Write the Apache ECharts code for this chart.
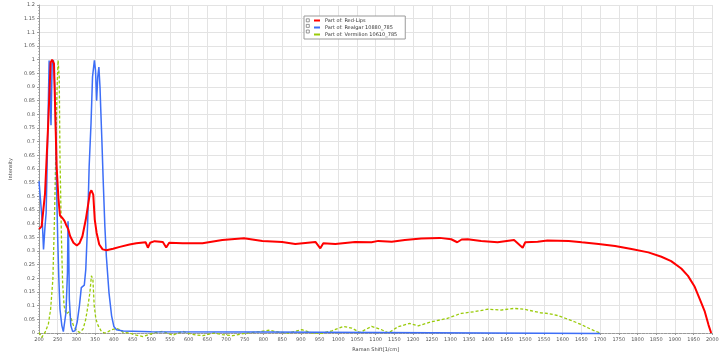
<!DOCTYPE html>
<html>
<head>
<meta charset="utf-8">
<script src="https://cdn.jsdelivr.net/npm/echarts@6/dist/echarts.min.js"></script>
<style>
  html, body { margin: 0; padding: 0; background: #fff; }
  #chart { width: 728px; height: 364px; }
</style>
</head>
<body>
<div id="chart"></div>
<script>
// Raman spectra, x = shift (1/cm), y = normalised intensity
var seriesNames = ["Part of: Red-Lips", "Part of: Realgar 10880_785", "Part of: Vermilion 10610_785"];

var redShift = [200, 207, 216, 225, 231, 235, 240, 243, 247, 252, 256, 263, 268, 272, 278, 283, 292, 301, 308, 316, 325, 332, 336, 340, 345, 349, 354, 361, 370, 380, 398, 416, 442, 460, 485, 491, 497, 509, 531, 540, 548, 584, 637, 690, 748, 797, 850, 885, 939, 952, 960, 992, 1045, 1089, 1107, 1143, 1178, 1222, 1271, 1302, 1318, 1330, 1346, 1382, 1426, 1470, 1493, 1500, 1533, 1559, 1616, 1651, 1696, 1740, 1784, 1829, 1864, 1890, 1917, 1935, 1953, 1966, 1980, 1990, 1997];
var redInt = [0.38, 0.39, 0.51, 0.78, 0.99, 1.0, 0.985, 0.83, 0.61, 0.49, 0.43, 0.42, 0.41, 0.397, 0.38, 0.355, 0.33, 0.32, 0.328, 0.354, 0.415, 0.476, 0.512, 0.522, 0.506, 0.415, 0.366, 0.324, 0.306, 0.303, 0.308, 0.315, 0.324, 0.328, 0.332, 0.312, 0.33, 0.336, 0.333, 0.313, 0.33, 0.328, 0.328, 0.34, 0.347, 0.337, 0.333, 0.326, 0.333, 0.31, 0.328, 0.326, 0.333, 0.332, 0.337, 0.334, 0.34, 0.346, 0.348, 0.343, 0.332, 0.342, 0.343, 0.337, 0.332, 0.34, 0.312, 0.332, 0.334, 0.338, 0.337, 0.332, 0.326, 0.318, 0.307, 0.295, 0.279, 0.263, 0.236, 0.209, 0.169, 0.126, 0.078, 0.029, 0.0];

var realgarShift = [200, 205, 209, 212, 216, 219, 223, 227, 229, 232, 235, 238.5, 242, 245, 247, 250, 253, 256, 261, 265, 269, 272, 276, 277.5, 279, 281, 285, 290, 296, 302, 308, 313, 316.5, 321, 325, 330, 334, 339, 343, 348, 351, 354, 357, 360, 363, 365, 368, 371.5, 376, 380, 387, 394, 400, 407, 425, 500, 800, 1100, 1400, 1700];
var realgarInt = [0.555, 0.55, 0.4, 0.306, 0.39, 0.44, 0.706, 0.997, 0.995, 0.76, 0.985, 0.998, 0.9, 0.72, 0.524, 0.342, 0.197, 0.087, 0.027, 0.005, 0.008, 0.075, 0.22, 0.409, 0.342, 0.124, 0.027, 0.005, 0.008, 0.04, 0.1, 0.166, 0.172, 0.175, 0.233, 0.403, 0.609, 0.767, 0.937, 0.998, 0.961, 0.85, 0.937, 0.973, 0.9, 0.82, 0.706, 0.56, 0.39, 0.28, 0.148, 0.063, 0.024, 0.012, 0.007, 0.005, 0.004, 0.002, 0.0, -0.002];

var vermShift = [200, 207, 216, 225, 231, 237, 241, 245, 248, 251, 254, 256, 260, 263, 267, 272, 277, 281, 285, 292, 301, 309, 318, 325, 332, 336, 340, 344, 347.5, 352, 358, 367, 376, 385, 394, 407, 416, 425, 442, 460, 478, 495, 513, 531, 557, 584, 610, 637, 668, 690, 717, 752, 788, 815, 841, 868, 903, 930, 956, 983, 1014, 1036, 1058, 1089, 1116, 1134, 1160, 1191, 1214, 1249, 1293, 1329, 1364, 1400, 1435, 1470, 1497, 1541, 1563, 1586, 1607, 1630, 1651, 1678, 1700];
var vermInt = [0.002, -0.016, 0.002, 0.033, 0.087, 0.197, 0.403, 0.67, 0.888, 0.998, 0.937, 0.646, 0.342, 0.184, 0.1, 0.069, 0.066, 0.078, 0.057, 0.027, 0.008, 0.002, 0.015, 0.051, 0.11, 0.148, 0.209, 0.197, 0.1, 0.051, 0.027, 0.005, 0.0, 0.005, 0.012, 0.017, 0.012, 0.002, 0.0, -0.008, -0.013, -0.005, 0.002, 0.006, -0.008, 0.006, -0.005, -0.01, 0.0, -0.006, -0.01, -0.001, 0.005, 0.01, 0.003, 0.0, 0.012, 0.0, -0.001, 0.008, 0.024, 0.018, 0.002, 0.024, 0.012, 0.0, 0.023, 0.035, 0.026, 0.041, 0.054, 0.072, 0.078, 0.087, 0.084, 0.09, 0.087, 0.074, 0.071, 0.064, 0.054, 0.042, 0.03, 0.012, 0.0];

function pairs(xs, ys) {
  return xs.map(function (x, i) { return [x, ys[i]]; });
}

var chart = echarts.init(document.getElementById("chart"));
var tickFont = { fontSize: 5, color: "#555", fontFamily: "DejaVu Sans" };

chart.setOption({
  animation: false,
  grid: { left: 35.5, right: 15.7, top: 5, bottom: 31 },
  legend: {
    left: 304,
    top: 16,
    orient: "vertical",
    itemWidth: 6,
    itemHeight: 2,
    itemGap: 2,
    padding: [2, 8, 2, 10],
    backgroundColor: "#fff",
    borderColor: "#9a9a9a",
    borderWidth: 1,
    textStyle: { fontSize: 5, color: "#333", fontFamily: "DejaVu Sans" },
    data: seriesNames.map(function (n) { return { name: n, icon: "rect" }; })
  },
  graphic: [0, 1, 2].map(function (i) {
    return {
      type: "rect",
      left: 306,
      top: 18.5 + i * 5.6,
      z: 100,
      shape: { width: 3, height: 3 },
      style: { fill: "#fff", stroke: "#555", lineWidth: 0.6 }
    };
  }),
  xAxis: {
    type: "value",
    min: 200,
    max: 2000,
    interval: 50,
    name: "Raman Shift[1/cm]",
    nameLocation: "middle",
    nameGap: 12,
    nameTextStyle: { fontSize: 5, color: "#444", fontFamily: "DejaVu Sans" },
    axisLine: { lineStyle: { color: "#999" } },
    axisTick: { show: true, length: 2, lineStyle: { color: "#999" } },
    minorTick: { show: true, splitNumber: 5, length: 1, lineStyle: { color: "#bbb" } },
    axisLabel: Object.assign({ margin: 4, formatter: function (v) { return String(v); } }, tickFont),
    splitLine: { show: true, lineStyle: { color: "#e3e3e3", width: 1 } }
  },
  yAxis: {
    type: "value",
    min: 0,
    max: 1.2,
    interval: 0.05,
    name: "Intensity",
    nameLocation: "middle",
    nameGap: 19,
    nameTextStyle: { fontSize: 5, color: "#444", fontFamily: "DejaVu Sans" },
    axisLine: { show: true, lineStyle: { color: "#999" } },
    axisTick: { show: true, length: 2, lineStyle: { color: "#999" } },
    minorTick: { show: true, splitNumber: 5, length: 1, lineStyle: { color: "#bbb" } },
    axisLabel: Object.assign({ margin: 4 }, tickFont),
    splitLine: { show: true, lineStyle: { color: "#e3e3e3", width: 1 } }
  },
  series: [
    {
      name: seriesNames[0],
      type: "line",
      showSymbol: false,
      clip: false,
      z: 3,
      color: "#ff0000",
      lineStyle: { width: 2, color: "#ff0000" },
      data: pairs(redShift, redInt)
    },
    {
      name: seriesNames[1],
      type: "line",
      showSymbol: false,
      clip: false,
      z: 2,
      color: "#3d6ef7",
      lineStyle: { width: 1.5, color: "#3d6ef7" },
      data: pairs(realgarShift, realgarInt)
    },
    {
      name: seriesNames[2],
      type: "line",
      showSymbol: false,
      clip: false,
      z: 1,
      color: "#9acb0a",
      lineStyle: { width: 1.3, color: "#9acb0a", type: [3, 2] },
      data: pairs(vermShift, vermInt)
    }
  ]
});
</script>
</body>
</html>
